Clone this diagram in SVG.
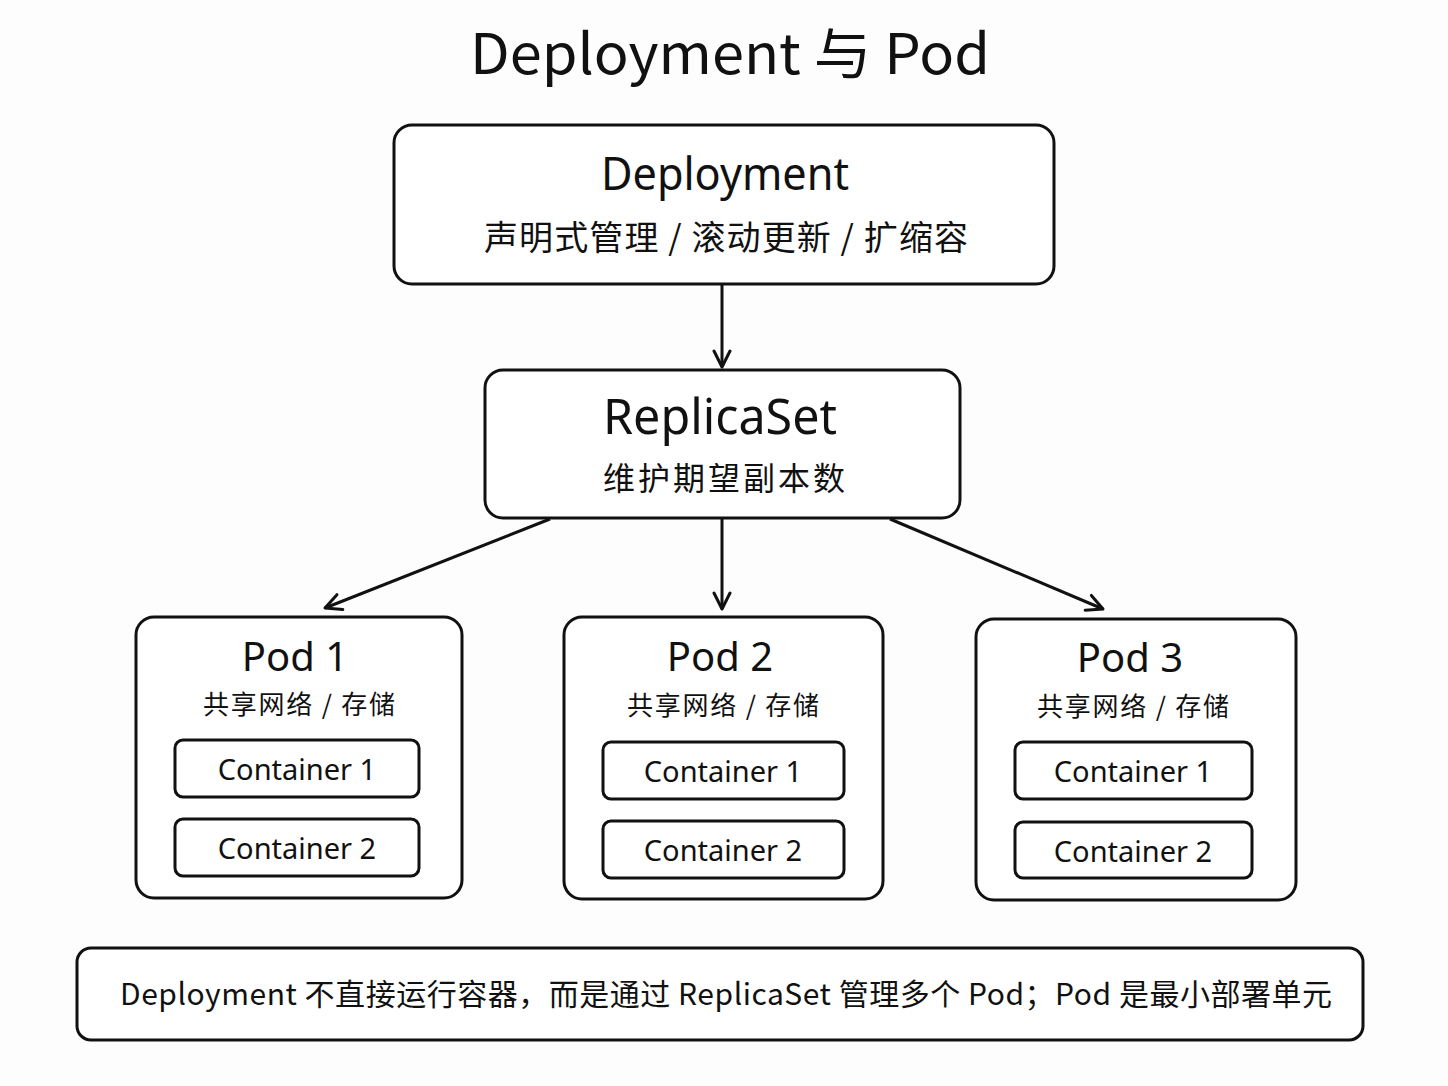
<svg xmlns="http://www.w3.org/2000/svg" width="1448" height="1086" viewBox="0 0 1448 1086">
<defs>
<style>
.box{fill:#fff;stroke:#111;stroke-width:3}
.t{font-family:"Noto Sans","Noto Sans CJK SC",sans-serif;fill:#111;text-anchor:middle}
.cjk{font-family:"Noto Sans CJK SC",sans-serif;fill:#111;text-anchor:middle}
.edge{fill:none;stroke:#111;stroke-width:3}
</style>
<marker id="ah" viewBox="0 0 20 20" refX="18" refY="10" markerWidth="20" markerHeight="20" markerUnits="userSpaceOnUse" orient="auto">
<path d="M2,2 L18,10 L2,18" fill="none" stroke="#111" stroke-width="3" stroke-linecap="round" stroke-linejoin="round"/>
</marker>
</defs>
<rect width="1448" height="1086" fill="#fdfdfd"/>
<text class="cjk" x="730" y="74" font-size="56" textLength="520" lengthAdjust="spacingAndGlyphs">Deployment 与 Pod</text>
<g id="deployment">
<rect class="box" x="394" y="125" width="660" height="159" rx="18"/>
<text class="t" x="725" y="190" font-size="46" textLength="248" lengthAdjust="spacingAndGlyphs">Deployment</text>
<text class="cjk" x="726" y="250" font-size="34" textLength="484" lengthAdjust="spacing">声明式管理 / 滚动更新 / 扩缩容</text>
</g>
<g id="replicaset">
<rect class="box" x="485" y="370" width="475" height="148" rx="18"/>
<text class="t" x="720" y="434" font-size="50" textLength="234" lengthAdjust="spacingAndGlyphs">ReplicaSet</text>
<text class="cjk" x="724" y="490" font-size="32" textLength="242" lengthAdjust="spacing">维护期望副本数</text>
</g>
<g id="pod1">
<rect class="box" x="136" y="617" width="326" height="281" rx="18"/>
<text class="t" x="295" y="671" font-size="40">Pod 1</text>
<text class="cjk" x="299" y="714" font-size="26" textLength="192" lengthAdjust="spacing">共享网络 / 存储</text>
<rect class="box" x="175" y="740" width="244" height="57" rx="8"/>
<text class="t" x="297" y="780" font-size="29">Container 1</text>
<rect class="box" x="175" y="819" width="244" height="57" rx="8"/>
<text class="t" x="297" y="859" font-size="29">Container 2</text>
</g>
<g id="pod2">
<rect class="box" x="564" y="617" width="319" height="282" rx="18"/>
<text class="t" x="720" y="671" font-size="40">Pod 2</text>
<text class="cjk" x="723" y="715" font-size="26" textLength="192" lengthAdjust="spacing">共享网络 / 存储</text>
<rect class="box" x="603" y="742" width="241" height="57" rx="8"/>
<text class="t" x="723" y="782" font-size="29">Container 1</text>
<rect class="box" x="603" y="821" width="241" height="57" rx="8"/>
<text class="t" x="723" y="861" font-size="29">Container 2</text>
</g>
<g id="pod3">
<rect class="box" x="976" y="619" width="320" height="281" rx="18"/>
<text class="t" x="1130" y="672" font-size="40">Pod 3</text>
<text class="cjk" x="1133" y="716" font-size="26" textLength="192" lengthAdjust="spacing">共享网络 / 存储</text>
<rect class="box" x="1015" y="742" width="237" height="57" rx="8"/>
<text class="t" x="1133" y="782" font-size="29">Container 1</text>
<rect class="box" x="1015" y="822" width="237" height="56" rx="8"/>
<text class="t" x="1133" y="862" font-size="29">Container 2</text>
</g>
<g id="note">
<rect class="box" x="77" y="948" width="1286" height="92" rx="14"/>
<text class="cjk" x="726" y="1005" font-size="30" textLength="1212" lengthAdjust="spacing">Deployment 不直接运行容器，而是通过 ReplicaSet 管理多个 Pod；Pod 是最小部署单元</text>
</g>
<g id="connectors">
<line class="edge" x1="722" y1="285" x2="722" y2="367" marker-end="url(#ah)"/>
<line class="edge" x1="550" y1="519" x2="325" y2="608" marker-end="url(#ah)"/>
<line class="edge" x1="722" y1="519" x2="722" y2="609" marker-end="url(#ah)"/>
<line class="edge" x1="890" y1="519" x2="1103" y2="609" marker-end="url(#ah)"/>
</g>
</svg>
